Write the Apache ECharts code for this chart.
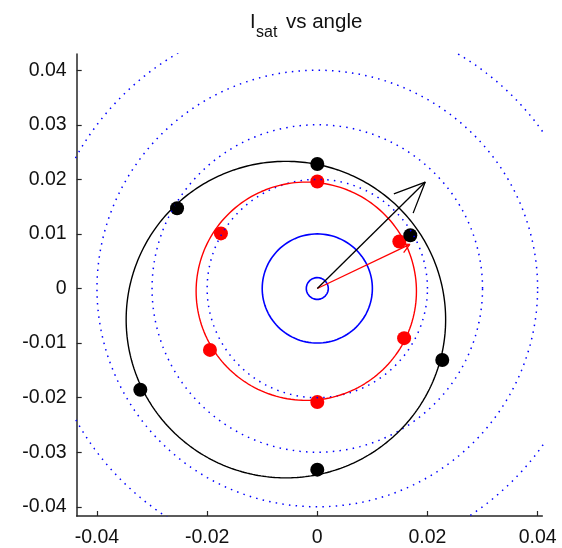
<!DOCTYPE html>
<html>
<head>
<meta charset="utf-8">
<script src="https://cdn.jsdelivr.net/npm/echarts@6/dist/echarts.min.js"></script>
<style>
  html, body { margin: 0; padding: 0; background: #fff; }
  #chart { width: 562px; height: 548px; }
</style>
</head>
<body>
<div id="chart"></div>
<script>
// Measurement angles (degrees), shared by both point sets
const angles = [30, 90, 150, 210, 270, 330];
// Saturation current magnitude at each angle
const blackMag = [0.0195, 0.0228, 0.0294, 0.0371, 0.0332, 0.0262];
const redMag = [0.0172, 0.0196, 0.0202, 0.0225, 0.0208, 0.0182];
// Fitted circles: [centre x, centre y, radius]
const blackFit = [-0.0057, -0.0057, 0.0290];
const redFit = [-0.0020, -0.0005, 0.0200];
// Reference rings about the origin
const dottedRadii = [0.02, 0.03, 0.04, 0.05];
const solidRadii = [0.002, 0.01];
// Offset vectors [x, y]
const blackVec = [0.0196, 0.0195];
const redVec = [0.0168, 0.0081];
// Axis ticks and their labels
const xTicks = [-0.04, -0.02, 0, 0.02, 0.04];
const xTickLabels = ['-0.04', '-0.02', '0', '0.02', '0.04'];
const yTicks = [-0.04, -0.03, -0.02, -0.01, 0, 0.01, 0.02, 0.03, 0.04];
const yTickLabels = ['-0.04', '-0.03', '-0.02', '-0.01', '0', '0.01', '0.02', '0.03', '0.04'];

const FONT = '"Liberation Sans", Arial, sans-serif';
const INK = '#111111';

function ring(cx, cy, r) {
  const pts = [];
  for (let i = 0; i <= 360; i++) {
    const t = i * Math.PI / 180;
    pts.push([cx + r * Math.cos(t), cy + r * Math.sin(t)]);
  }
  return pts;
}

function polarPoints(mags) {
  return angles.map((a, i) => {
    const t = a * Math.PI / 180;
    return [mags[i] * Math.cos(t), mags[i] * Math.sin(t)];
  });
}

// Open arrow head: two barbs swept back from the tip
function barbs(vec, len, halfDeg) {
  const back = Math.atan2(-vec[1], -vec[0]);
  const h = halfDeg * Math.PI / 180;
  return [
    [vec[0] + len * Math.cos(back + h), vec[1] + len * Math.sin(back + h)],
    [vec[0], vec[1]],
    [vec[0] + len * Math.cos(back - h), vec[1] + len * Math.sin(back - h)]
  ];
}

function labelFor(ticks, labels) {
  return function (v) {
    let best = 0;
    for (let i = 1; i < ticks.length; i++) {
      if (Math.abs(ticks[i] - v) < Math.abs(ticks[best] - v)) best = i;
    }
    return labels[best];
  };
}

function lineSeries(data, color, width, type) {
  return {
    type: 'line', data: data, symbol: 'none', silent: true, animation: false,
    clip: true,
    lineStyle: { color: color, width: width, type: type || 'solid', cap: 'butt' }
  };
}

function pointSeries(data, color) {
  return {
    type: 'scatter', data: data, symbol: 'circle', symbolSize: 14,
    itemStyle: { color: color, opacity: 1 }, silent: true, animation: false
  };
}

const series = [];
dottedRadii.forEach(r => series.push(lineSeries(ring(0, 0, r), '#0000ff', 1.5, [1.5, 5.2])));
solidRadii.forEach(r => series.push(lineSeries(ring(0, 0, r), '#0000ff', 1.6)));
series.push(lineSeries(ring(redFit[0], redFit[1], redFit[2]), '#ff0000', 1.4));
series.push(pointSeries(polarPoints(redMag), '#ff0000'));
series.push(lineSeries(ring(blackFit[0], blackFit[1], blackFit[2]), '#000000', 1.4));
series.push(pointSeries(polarPoints(blackMag), '#000000'));
series.push(lineSeries([[0, 0], redVec.slice()], '#ff0000', 1.3));
series.push(lineSeries(barbs(redVec, 0.0019, 28), '#ff0000', 1.3));
series.push(lineSeries([[0, 0], blackVec.slice()], '#000000', 1.3));
series.push(lineSeries(barbs(blackVec, 0.0061, 24), '#000000', 1.3));

const axisCommon = {
  type: 'value',
  splitLine: { show: false },
  axisLine: { show: true, onZero: false, lineStyle: { color: '#262626', width: 1.5 } },
  axisTick: { show: true, inside: true, length: 5, lineStyle: { color: '#262626', width: 1.2 } },
  axisLabel: { color: INK, fontFamily: FONT, fontSize: 19.5 }
};

const titleFont = { fontFamily: FONT, fill: INK };

const chart = echarts.init(document.getElementById('chart'), null, { renderer: 'canvas' });
chart.setOption({
  backgroundColor: '#ffffff',
  animation: false,
  grid: { left: 76.7, top: 54, width: 465.6, height: 466.3, containLabel: false },
  xAxis: Object.assign({}, axisCommon, {
    min: -0.04368, max: 0.04085,
    axisTick: Object.assign({}, axisCommon.axisTick, { customValues: xTicks }),
    axisLabel: Object.assign({}, axisCommon.axisLabel, { margin: 12, customValues: xTicks, formatter: labelFor(xTicks, xTickLabels) })
  }),
  yAxis: Object.assign({}, axisCommon, {
    min: -0.04169, max: 0.04297,
    axisTick: Object.assign({}, axisCommon.axisTick, { customValues: yTicks }),
    axisLabel: Object.assign({}, axisCommon.axisLabel, { margin: 10, customValues: yTicks, formatter: labelFor(yTicks, yTickLabels) })
  }),
  graphic: [
    { type: 'text', x: 250, y: 12, silent: true,
      style: Object.assign({ text: 'I', fontSize: 20, align: 'left', verticalAlign: 'top' }, titleFont) },
    { type: 'text', x: 256, y: 25, silent: true,
      style: Object.assign({ text: 'sat', fontSize: 16, align: 'left', verticalAlign: 'top' }, titleFont) },
    { type: 'text', x: 286, y: 12, silent: true,
      style: Object.assign({ text: 'vs angle', fontSize: 20.5, align: 'left', verticalAlign: 'top' }, titleFont) }
  ],
  series: series
});
</script>
</body>
</html>
